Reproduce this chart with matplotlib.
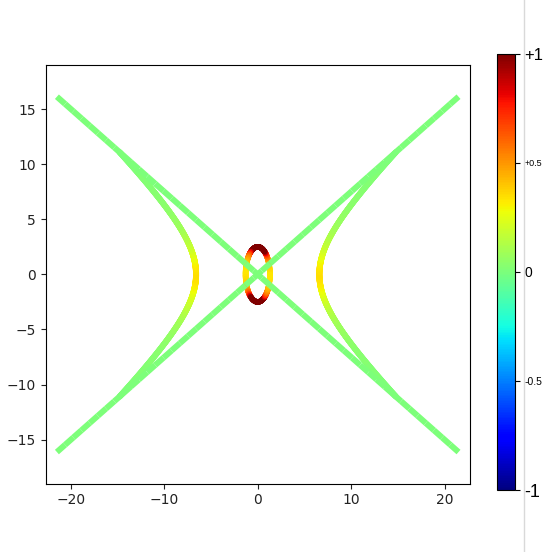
import numpy as np
import matplotlib
matplotlib.use("Agg")
import matplotlib.pyplot as plt
from matplotlib.collections import LineCollection
from matplotlib.colors import Normalize
from matplotlib.lines import Line2D

# Conic parameters (semi-axes)
ellipse_a, ellipse_b = 1.3, 2.5
hyper_a, hyper_b = 6.6, 5.53
line_slope = 0.75
line_xmax = 21.5
color_gain = 1.6          # curvature -> colour value

# Colorbar ticks and their labels / label sizes
cbar_ticks = [-1, -0.5, 0, 0.5, 1]
cbar_labels = ["-1", "-0.5", "0", "+0.5", "+1"]
cbar_sizes = [13, 7.5, 10, 6.5, 12]

norm = Normalize(-1, 1)
cmap = plt.get_cmap("jet")


def segments(x, y):
    pts = np.column_stack([x, y]).reshape(-1, 1, 2)
    return np.concatenate([pts[:-1], pts[1:]], axis=1)


def mid(v):
    return 0.5 * (v[:-1] + v[1:])


fig = plt.figure(figsize=(5.46, 5.52), dpi=100)
ax = fig.add_axes([0.0837, 0.1237, 0.7766, 0.7585])

# Ellipse, coloured by curvature
t = np.linspace(0, 2 * np.pi, 600)
ex, ey = ellipse_a * np.cos(t), ellipse_b * np.sin(t)
ek = ellipse_a * ellipse_b / (ellipse_a**2 * np.sin(t)**2 + ellipse_b**2 * np.cos(t)**2) ** 1.5
lc = LineCollection(segments(ex, ey), cmap=cmap, norm=norm, linewidths=4.0,
                    capstyle="round")
lc.set_array(np.clip(color_gain * mid(ek), -1, 1))
ax.add_collection(lc)

# Hyperbola branches, running until they meet the straight lines
x_meet = np.sqrt(hyper_b**2 / (hyper_b**2 / hyper_a**2 - line_slope**2))
tmax = np.arccosh(x_meet / hyper_a)
s = np.linspace(-tmax, tmax, 600)
hk = hyper_a * hyper_b / (hyper_a**2 * np.sinh(s)**2 + hyper_b**2 * np.cosh(s)**2) ** 1.5
for sign in (1, -1):
    hx, hy = sign * hyper_a * np.cosh(s), hyper_b * np.sinh(s)
    lc = LineCollection(segments(hx, hy), cmap=cmap, norm=norm, linewidths=4.3,
                        capstyle="round")
    lc.set_array(np.clip(color_gain * mid(hk), -1, 1))
    ax.add_collection(lc)

# Straight lines through the origin (zero curvature)
lx = np.linspace(-line_xmax, line_xmax, 50)
for sign in (1, -1):
    lc = LineCollection(segments(lx, sign * line_slope * lx), cmap=cmap, norm=norm,
                        linewidths=4.3)
    lc.set_array(np.zeros(len(lx) - 1))
    ax.add_collection(lc)

ax.set_xlim(-22.7, 22.7)
ax.set_ylim(-19.0, 19.0)
ax.set_xticks([-20, -10, 0, 10, 20])
ax.set_yticks([-15, -10, -5, 0, 5, 10, 15])
ax.tick_params(labelsize=10, colors="#222222")

# Colorbar
cax = fig.add_axes([0.9108, 0.1123, 0.0319, 0.790])
sm = plt.cm.ScalarMappable(norm=norm, cmap=cmap)
cb = fig.colorbar(sm, cax=cax)
cb.set_ticks(cbar_ticks)
cb.set_ticklabels(cbar_labels)
cax.tick_params(pad=3.5)
for lab, size in zip(cax.get_yticklabels(), cbar_sizes):
    lab.set_fontsize(size)
    lab.set_family(["Liberation Sans", "DejaVu Sans"])

# thin separator on the right edge
fig.add_artist(Line2D([523.5 / 546, 523.5 / 546], [0, 1], transform=fig.transFigure,
                      color="#d9d9d9", lw=1))

fig.savefig("out.png", dpi=100)
